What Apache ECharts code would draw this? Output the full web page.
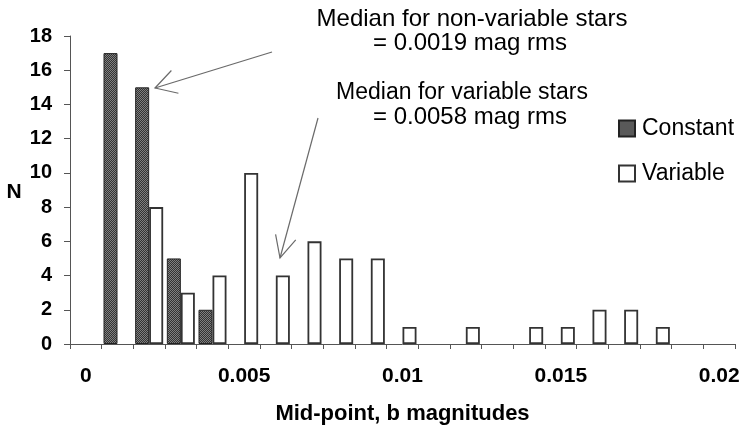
<!DOCTYPE html>
<html>
<head>
<meta charset="utf-8">
<script src="https://cdn.jsdelivr.net/npm/echarts@6/dist/echarts.min.js"></script>
<style>
html,body{margin:0;padding:0;background:#fff;}
#c{width:743px;height:430px;}
</style>
</head>
<body>
<div id="c"></div>
<script>
const categories = ['0','0.001','0.002','0.003','0.004','0.005','0.006','0.007','0.008','0.009','0.01','0.011','0.012','0.013','0.014','0.015','0.016','0.017','0.018','0.019','0.02'];
const constantCounts = [0,17,15,5,2,0,0,0,0,0,0,0,0,0,0,0,0,0,0,0,0];
const variableCounts = [0,0,8,3,4,10,4,6,5,5,1,0,1,0,1,1,2,2,1,0,0];
const yMin = 0, yMax = 18, yStep = 2;
const FONT = "'Liberation Sans', Arial, sans-serif";

// stipple pattern for "Constant"
const pc = document.createElement('canvas');
pc.width = 2; pc.height = 2;
const px = pc.getContext('2d');
px.fillStyle = '#333'; px.fillRect(0,0,2,2);
px.fillStyle = '#808080'; px.fillRect(0,0,1,1); px.fillRect(1,1,1,1);

const chart = echarts.init(document.getElementById('c'), null, {renderer:'canvas'});

function arrow(tail, tip, wing, ang){
  const dx = tail[0]-tip[0], dy = tail[1]-tip[1];
  const a = Math.atan2(dy, dx);
  const w1 = [tip[0]+wing*Math.cos(a+ang), tip[1]+wing*Math.sin(a+ang)];
  const w2 = [tip[0]+wing*Math.cos(a-ang), tip[1]+wing*Math.sin(a-ang)];
  const st = {stroke:'#6a6a6a', lineWidth:1.2, fill:null};
  return [
    {type:'polyline', shape:{points:[tail, tip]}, style:st},
    {type:'polyline', shape:{points:[w1, tip, w2]}, style:st}
  ];
}

const textStyle = (x, y, t, size, bold) => ({
  type:'text', x:x, y:y,
  style:{text:t, font:(bold?'bold ':'')+size+'px '+FONT, fill:'#000', align:'center', verticalAlign:'middle'}
});

const option = {
  animation:false,
  backgroundColor:'#fff',
  grid:{left:70, right:8, top:36, bottom:82},
  legend:{
    orient:'vertical', left:613, top:112, itemWidth:16, itemHeight:16, itemGap:22,
    textStyle:{fontFamily:FONT, fontSize:23, color:'#000', padding:[0,0,0,2]},
    data:['Constant','Variable'], icon:'rect'
  },
  xAxis:{
    type:'category', data:categories, boundaryGap:true,
    axisLine:{lineStyle:{color:'#555', width:1}},
    axisTick:{show:true, interval:0, length:5, lineStyle:{color:'#555'}},
    axisLabel:{interval:function(i){return i%5===0;}, margin:22, fontFamily:FONT, fontWeight:'bold', fontSize:21, color:'#000'},
    name:'Mid-point, b magnitudes', nameLocation:'middle', nameGap:59,
    nameTextStyle:{fontFamily:FONT, fontWeight:'bold', fontSize:22, color:'#000'}
  },
  yAxis:{
    type:'value', min:yMin, max:yMax, interval:yStep,
    axisLine:{show:true, lineStyle:{color:'#555', width:1}},
    axisTick:{show:true, length:6, lineStyle:{color:'#555'}},
    splitLine:{show:false},
    axisLabel:{margin:18, fontFamily:FONT, fontWeight:'bold', fontSize:20, color:'#000'}
  },
  series:[
    {name:'Constant', type:'bar', barWidth:14, barGap:'0%',
     data:constantCounts.map(v=>v===0?null:v),
     itemStyle:{color:{image:pc, repeat:'repeat'}, borderColor:'#222', borderWidth:1}},
    {name:'Variable', type:'bar', barWidth:14, barGap:'0%',
     data:variableCounts.map(v=>v===0?null:v),
     itemStyle:{color:'#fff', borderColor:'#333', borderWidth:1.8}}
  ],
  graphic:[].concat(
    [textStyle(14, 192, 'N', 21, true),
     textStyle(472, 19, 'Median for non-variable stars', 24, false),
     textStyle(470, 43, '= 0.0019 mag rms', 24, false),
     textStyle(462, 93, 'Median for variable stars', 23, false),
     textStyle(470, 117, '= 0.0058 mag rms', 24, false)],
    arrow([272,52],[155,88],24,0.52),
    arrow([318,118],[280,258],24,0.45)
  )
};
chart.setOption(option);
</script>
</body>
</html>
